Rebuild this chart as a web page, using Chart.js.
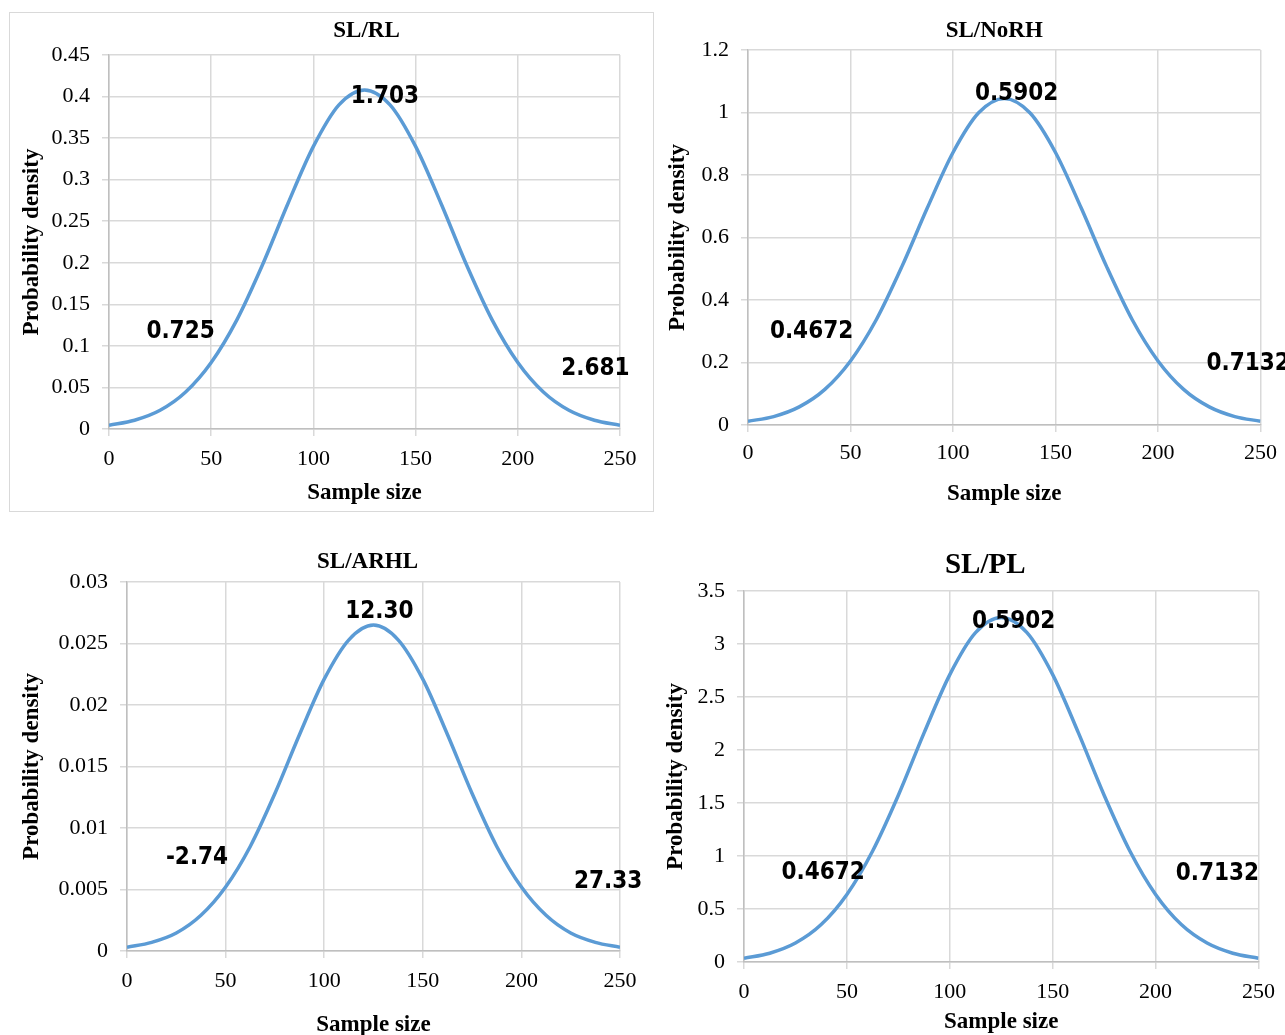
<!DOCTYPE html>
<html>
<head>
<meta charset="utf-8">
<title>Probability density vs sample size</title>
<script src="https://cdn.jsdelivr.net/npm/chart.js@4/dist/chart.umd.min.js"></script>
<style>
    html, body { margin: 0; padding: 0; background: #fff; overflow: hidden; }
    body { width: 1285px; height: 1035px; position: relative; }
    .panel { position: absolute; }
    .frame { position: absolute; left: 9px; top: 12px; width: 643px; height: 498px; border: 1.5px solid #d9d9d9; }
</style>
</head>
<body>
<div class="frame"></div>
<div class="panel" style="left:10px;top:13px;width:643px;height:497px"><canvas id="chartRL"></canvas></div>
<div class="panel" style="left:655px;top:0px;width:630px;height:510px"><canvas id="chartNoRH"></canvas></div>
<div class="panel" style="left:0px;top:520px;width:655px;height:525px"><canvas id="chartARHL"></canvas></div>
<div class="panel" style="left:655px;top:520px;width:630px;height:525px"><canvas id="chartPL"></canvas></div>
<script>
// Sample size (x) for every curve
const sampleSize = [0, 12.5, 25, 37.5, 50, 62.5, 75, 87.5, 100, 112.5, 125,
                    137.5, 150, 162.5, 175, 187.5, 200, 212.5, 225, 237.5, 250];

// Probability density
const densityRL   = [0.0045, 0.0105, 0.0225, 0.0445, 0.080, 0.131, 0.197, 0.271, 0.340, 0.390, 0.408,
                     0.390, 0.340, 0.271, 0.197, 0.131, 0.080, 0.0445, 0.0225, 0.0105, 0.0045];
const densityNoRH = [0.012, 0.027, 0.058, 0.114, 0.205, 0.336, 0.506, 0.695, 0.872, 0.999, 1.045,
                     0.999, 0.872, 0.695, 0.506, 0.336, 0.205, 0.114, 0.058, 0.027, 0.012];
const densityARHL = [0.0003, 0.0007, 0.00146, 0.0029, 0.0052, 0.0085, 0.0128, 0.0176, 0.0221, 0.0253, 0.0265,
                     0.0253, 0.0221, 0.0176, 0.0128, 0.0085, 0.0052, 0.0029, 0.00146, 0.0007, 0.0003];
const densityPL   = [0.035, 0.083, 0.179, 0.353, 0.637, 1.047, 1.573, 2.161, 2.711, 3.107, 3.25,
                     3.107, 2.711, 2.161, 1.573, 1.047, 0.637, 0.353, 0.179, 0.083, 0.035];

// Axis ticks
const xTicks     = [0, 50, 100, 150, 200, 250];
const yTicksRL   = [0, 0.05, 0.1, 0.15, 0.2, 0.25, 0.3, 0.35, 0.4, 0.45];
const yTicksNoRH = [0, 0.2, 0.4, 0.6, 0.8, 1, 1.2];
const yTicksARHL = [0, 0.005, 0.01, 0.015, 0.02, 0.025, 0.03];
const yTicksPL   = [0, 0.5, 1, 1.5, 2, 2.5, 3, 3.5];

// Values written on each curve (left tail, peak, right tail)
const notesRL   = ['0.725', '1.703', '2.681'];
const notesNoRH = ['0.4672', '0.5902', '0.7132'];
const notesARHL = ['-2.74', '12.30', '27.33'];
const notesPL   = ['0.4672', '0.5902', '0.7132'];

const SERIF = "'Liberation Serif', 'Times New Roman', serif";
const NOTE_FONT = "bold 24px 'Liberation Sans Narrow', 'Arial Narrow', 'DejaVu Sans Condensed', sans-serif";

// Draws the panel title and the values written along the curve
const panelText = {
    id: 'panelText',
    afterDatasetsDraw(chart, args, opts) {
        const {ctx, chartArea, scales} = chart;
        ctx.save();
        ctx.fillStyle = '#000';
        ctx.textAlign = 'center';
        ctx.textBaseline = 'middle';
        ctx.font = `bold ${opts.titleSize}px ${SERIF}`;
        ctx.fillText(opts.title, (chartArea.left + chartArea.right) / 2 + opts.titleDx, opts.titleY);
        ctx.font = NOTE_FONT;
        opts.notes.forEach((txt, i) => {
            const [ax, ay] = opts.anchors[i];
            ctx.fillText(txt, scales.x.getPixelForValue(ax), scales.y.getPixelForValue(ay));
        });
        ctx.restore();
    }
};

function makeChart(id, cfg) {
    const canvas = document.getElementById(id);
    const box = canvas.parentElement;
    canvas.width = box.clientWidth;
    canvas.height = box.clientHeight;
    const gridColor = '#d9d9d9';
    return new Chart(canvas.getContext('2d'), {
        type: 'line',
        data: {
            datasets: [{
                data: sampleSize.map((s, i) => ({ x: s, y: cfg.values[i] })),
                borderColor: '#5b9bd5',
                borderWidth: 3.5,
                pointRadius: 0,
                fill: false,
                tension: 0.4,
                cubicInterpolationMode: 'monotone'
            }]
        },
        options: {
            responsive: false,
            animation: false,
            devicePixelRatio: 1,
            layout: { padding: { top: cfg.padTop, right: cfg.padRight, left: 0, bottom: 0 } },
            plugins: {
                legend: { display: false },
                tooltip: { enabled: false },
                title: { display: false },
                panelText: {
                    title: cfg.title, titleSize: cfg.titleSize, titleY: cfg.titleY, titleDx: cfg.titleDx,
                    notes: cfg.notes, anchors: cfg.anchors
                }
            },
            scales: {
                x: {
                    type: 'linear',
                    min: 0, max: 250,
                    afterBuildTicks: s => { s.ticks = xTicks.map(v => ({ value: v })); },
                    afterFit: s => { s.height = cfg.xHeight; },
                    grid: { color: gridColor, lineWidth: 1.5, tickLength: 7, tickColor: gridColor },
                    border: { color: '#bfbfbf', width: 1.5 },
                    ticks: { color: '#000', padding: cfg.xTickPad, maxRotation: 0, font: { family: SERIF, size: 22 } },
                    title: {
                        display: true, text: 'Sample size', color: '#000',
                        font: { family: SERIF, size: 23, weight: 'bold' },
                        padding: { top: 0, bottom: cfg.xTitlePad }
                    }
                },
                y: {
                    type: 'linear',
                    min: 0, max: cfg.yTicks[cfg.yTicks.length - 1],
                    afterBuildTicks: s => { s.ticks = cfg.yTicks.map(v => ({ value: v })); },
                    afterFit: s => { s.width = cfg.yWidth; },
                    grid: { color: gridColor, lineWidth: 1.5, tickLength: 7, tickColor: gridColor },
                    border: { color: '#bfbfbf', width: 1.5 },
                    ticks: {
                        color: '#000', padding: 12, font: { family: SERIF, size: 22 },
                        callback: v => String(parseFloat(Number(v).toFixed(4)))
                    },
                    title: {
                        display: true, text: 'Probability density', color: '#000',
                        font: { family: SERIF, size: 23, weight: 'bold' },
                        padding: { top: cfg.yTitlePad, bottom: 0 }
                    }
                }
            }
        },
        plugins: [panelText]
    });
}

const charts = {};

charts.rl = makeChart('chartRL', {
    values: densityRL, yTicks: yTicksRL, notes: notesRL,
    anchors: [[35, 0.117], [135, 0.400], [238, 0.073]],
    title: 'SL/RL', titleSize: 23, titleY: 18, titleDx: 2,
    padTop: 42, padRight: 33, yWidth: 99, xHeight: 81,
    xTickPad: 10, xTitlePad: 3, yTitlePad: 8
});

charts.norh = makeChart('chartNoRH', {
    values: densityNoRH, yTicks: yTicksNoRH, notes: notesNoRH,
    anchors: [[31, 0.298], [131, 1.06], [244, 0.195]],
    title: 'SL/NoRH', titleSize: 23, titleY: 31, titleDx: -10,
    padTop: 50, padRight: 19, yWidth: 93, xHeight: 85,
    xTickPad: 8, xTitlePad: 2, yTitlePad: 9
});

charts.arhl = makeChart('chartARHL', {
    values: densityARHL, yTicks: yTicksARHL, notes: notesARHL,
    anchors: [[35.5, 0.00756], [128, 0.0276], [244, 0.0056]],
    title: 'SL/ARHL', titleSize: 23, titleY: 42, titleDx: -6,
    padTop: 62, padRight: 35, yWidth: 127, xHeight: 94,
    xTickPad: 10, xTitlePad: 6, yTitlePad: 18
});

charts.pl = makeChart('chartPL', {
    values: densityPL, yTicks: yTicksPL, notes: notesPL,
    anchors: [[38.5, 0.84], [131, 3.21], [230, 0.83]],
    title: 'SL/PL', titleSize: 29, titleY: 46, titleDx: -16,
    padTop: 71, padRight: 22, yWidth: 89, xHeight: 83,
    xTickPad: 10, xTitlePad: 9, yTitlePad: 7
});
</script>
</body>
</html>
